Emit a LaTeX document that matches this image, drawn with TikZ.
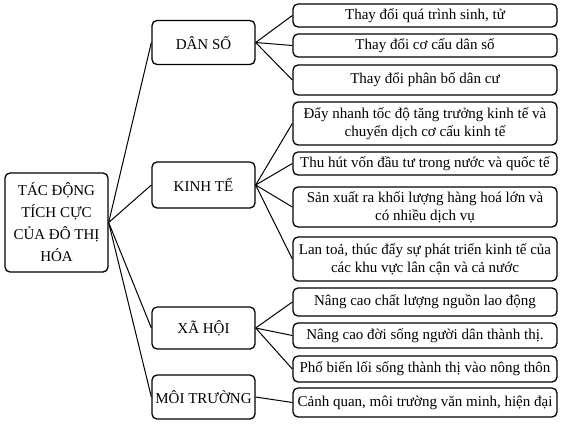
\documentclass[tikz,border=0pt]{standalone}
\usepackage{fontspec}
\setmainfont{Liberation Serif}
\usetikzlibrary{positioning}

\begin{document}
\begin{tikzpicture}[x=1pt,y=-1pt,line width=1.3pt,
		font=\fontsize{15}{18}\selectfont,
		box/.style={draw, rounded corners=5pt, align=center, inner sep=0pt},
		cat/.style={box, minimum width=103pt},
		leaf/.style={box, minimum width=264pt}]
		\useasboundingbox (0,0) rectangle (562,426);
		\fill[white] (0,0) rectangle (562,426);

		\draw (56.5,222.5) node[box, minimum width=103pt, minimum height=99pt,
			font=\fontsize{15}{22}\selectfont] (root) {TÁC ĐỘNG\\TÍCH CỰC\\CỦA ĐÔ THỊ\\HÓA}
		(203.5,42.5) node[cat, minimum height=44pt] (ds) {DÂN SỐ}
		(203.5,185) node[cat, minimum height=46pt] (kt) {KINH TẾ}
		(203.5,328) node[cat, minimum height=42pt] (xh) {XÃ HỘI}
		(203.5,397) node[cat, minimum height=44pt] (mt) {MÔI TRƯỜNG};

		\draw (425,15.5) node[leaf, minimum height=23pt] (ds1) {Thay đổi quá trình sinh, tử}
		(425,45.5) node[leaf, minimum height=23pt] (ds2) {Thay đổi cơ cấu dân số}
		(425,80) node[leaf, minimum height=30pt] (ds3) {Thay đổi phân bố dân cư}
		(425,123.5) node[leaf, minimum height=43pt] (kt1) {Đẩy nhanh tốc độ tăng trưởng kinh tế và\\chuyển dịch cơ cấu kinh tế}
		(425,163.5) node[leaf, minimum height=23pt] (kt2) {Thu hút vốn đầu tư trong nước và quốc tế}
		(425,207) node[leaf, minimum height=40pt] (kt3) {Sản xuất ra khối lượng hàng hoá lớn và\\có nhiều dịch vụ}
		(425,259) node[leaf, minimum height=44pt] (kt4) {Lan toả, thúc đẩy sự phát triển kinh tế của\\các khu vực lân cận và cả nước}
		(425,302) node[leaf, minimum height=28pt] (xh1) {Nâng cao chất lượng nguồn lao động}
		(425,335.5) node[leaf, minimum height=25pt] (xh2) {Nâng cao đời sống người dân thành thị.}
		(425,369) node[leaf, minimum height=26pt] (xh3) {Phổ biến lối sống thành thị vào nông thôn}
		(425,402.5) node[leaf, minimum height=29pt] (mt1) {Cảnh quan, môi trường văn minh, hiện đại};

		\draw[line width=1pt] (root.east) -- (ds.west);
		\draw[line width=1pt] (root.east) -- (kt.west);
		\draw[line width=1pt] (root.east) -- (xh.west);
		\draw[line width=1pt] (root.east) -- (mt.west);

		\draw[line width=1pt] (ds.east) -- (ds1.west);
		\draw[line width=1pt] (ds.east) -- (ds2.west);
		\draw[line width=1pt] (ds.east) -- (ds3.west);
		\draw[line width=1pt] (kt.east) -- (kt1.west);
		\draw[line width=1pt] (kt.east) -- (kt2.west);
		\draw[line width=1pt] (kt.east) -- (kt3.west);
		\draw[line width=1pt] (kt.east) -- (kt4.west);
		\draw[line width=1pt] (xh.east) -- (xh1.west);
		\draw[line width=1pt] (xh.east) -- (xh2.west);
		\draw[line width=1pt] (xh.east) -- (xh3.west);
		\draw[line width=1pt] (mt.east) -- (mt1.west);
	\end{tikzpicture}
\end{document}
